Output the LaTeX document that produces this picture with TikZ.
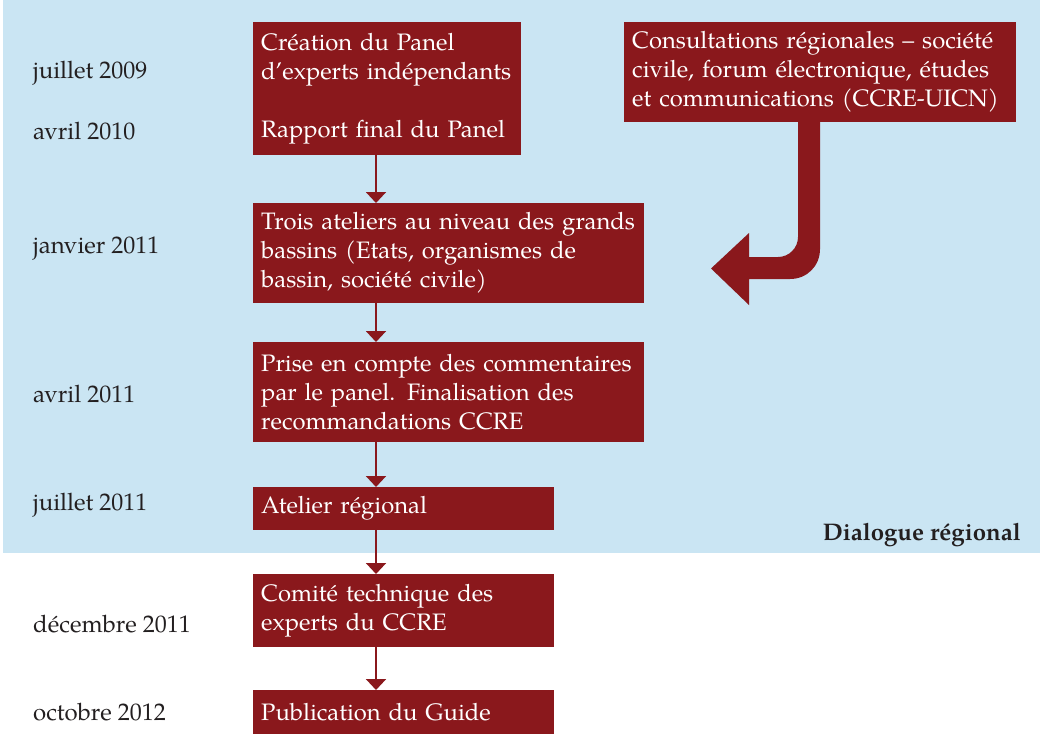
\documentclass[tikz,border=0pt]{standalone}
\usepackage{fontspec}
\setmainfont{TeX Gyre Pagella}
\usetikzlibrary{arrows.meta}
\definecolor{boxred}{HTML}{8A181C}
\definecolor{bgblue}{HTML}{CAE5F3}
\definecolor{datecol}{HTML}{231F20}
\newcommand{\boxfont}{\fontsize{23.8pt}{29pt}\selectfont\hyphenpenalty=10000 }
\newcommand{\datefont}{\fontsize{24pt}{29pt}\selectfont}
\begin{document}
\begin{tikzpicture}[x=1pt,y=-1pt,
  box/.style={fill=boxred, text=white, anchor=north west, align=left, inner xsep=8pt, inner ysep=0pt, font=\boxfont},
  datelbl/.style={anchor=west, text=datecol, inner sep=0pt, font=\datefont},
  flowarrow/.style={draw=boxred, line width=2pt, -{Triangle[width=20pt,length=11pt]}}]
\useasboundingbox (0,0) rectangle (1040,734);
\fill[bgblue] (3,0) rectangle (1040,553);
% boxes
\node[box, text width=252pt, minimum height=133pt] (b1) at (253,22) {\mbox{Création du Panel}\\\mbox{d’experts indépendants}\\[29pt]\mbox{Rapport final du Panel}};
\node[box, text width=375pt, minimum height=100pt] (b2) at (253,203) {\mbox{Trois ateliers au niveau des grands}\\\mbox{bassins (Etats, organismes de}\\\mbox{bassin, société civile)}};
\node[box, text width=375pt, minimum height=100pt] (b3) at (253,342) {\mbox{Prise en compte des commentaires}\\\mbox{par le panel. Finalisation des}\\\mbox{recommandations CCRE}};
\node[box, text width=285pt, minimum height=43pt] (b4) at (253,487) {Atelier régional};
\node[box, text width=285pt, minimum height=73pt] (b5) at (253,574) {\mbox{Comité technique des}\\\mbox{experts du CCRE}};
\node[box, text width=285pt, minimum height=44pt] (b6) at (253,690) {Publication du Guide};
\node[box, text width=376pt, minimum height=100pt] (cons) at (624,22) {\mbox{Consultations régionales – société}\\\mbox{civile, forum électronique, études}\\\mbox{et communications (CCRE-UICN)}};
% dates
\node[datelbl] (d1) at (33,73) {juillet 2009};
\node[datelbl] (d2) at (33,131) {avril 2010};
\node[datelbl] (d3) at (33,249) {janvier 2011};
\node[datelbl] (d4) at (33,394) {avril 2011};
\node[datelbl] (d5) at (33,505) {juillet 2011};
\node[datelbl] (d6) at (33,624) {décembre 2011};
\node[datelbl] (d7) at (33,712) {octobre 2012};
\node[anchor=east, text=datecol, inner sep=0pt, font=\fontsize{24pt}{28pt}\selectfont\bfseries] (dlg) at (1021,535) {Dialogue régional};
% connectors
\coordinate (ax) at (376,0);
\draw[flowarrow] (b1.south -| ax) -- (b2.north -| ax);
\draw[flowarrow] (b2.south -| ax) -- (b3.north -| ax);
\draw[flowarrow] (b3.south -| ax) -- (b4.north -| ax);
\draw[flowarrow] (b4.south -| ax) -- (b5.north -| ax);
\draw[flowarrow] (b5.south -| ax) -- (b6.north -| ax);
% curved block arrow
\fill[boxred] (798,121) -- (820,121) -- (820,249) .. controls (820,266) and (807,279) .. (790,279)
  -- (749,279) -- (749,305) -- (711,268.5) -- (749,233) -- (749,257) -- (778,257)
  .. controls (789,257) and (798,248) .. (798,237) -- cycle;
\end{tikzpicture}
\end{document}
